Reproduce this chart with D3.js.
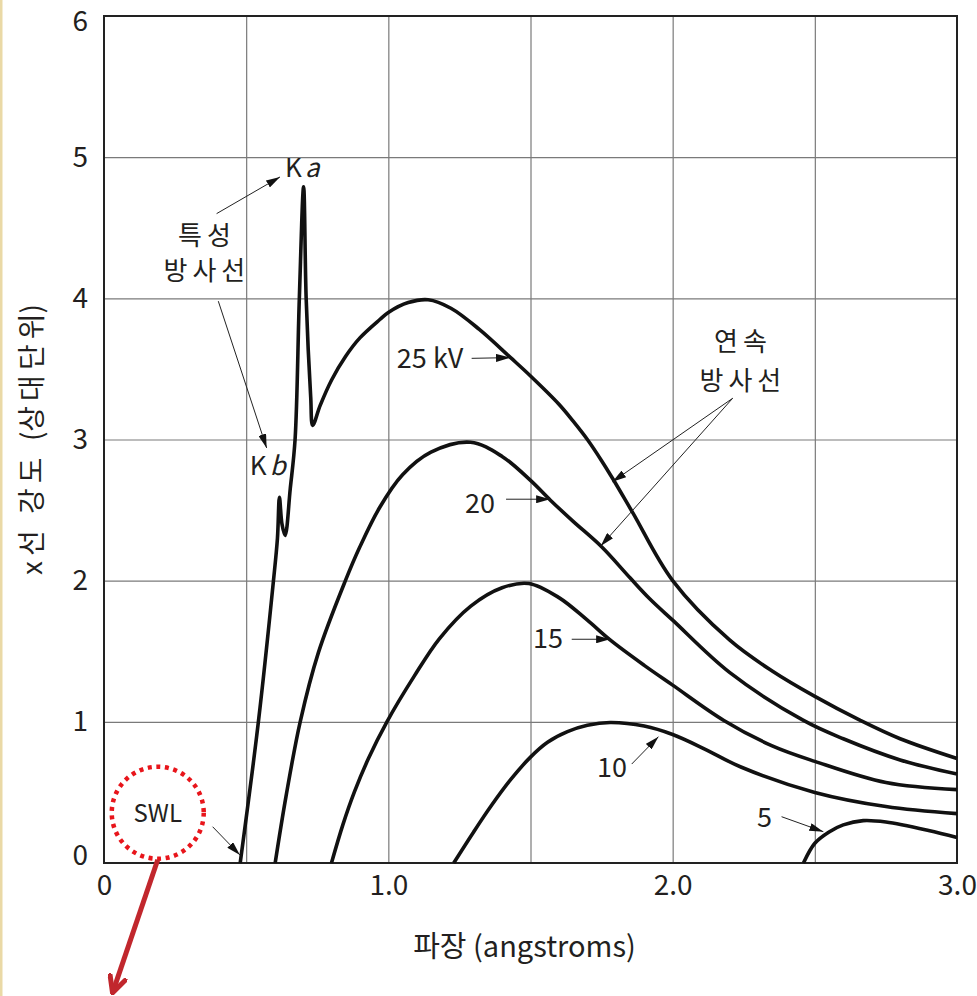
<!DOCTYPE html>
<html>
<head>
<meta charset="utf-8">
<script src="https://cdn.jsdelivr.net/npm/d3@7"></script>
<style>
  body { margin: 0; background: #fff; }
  svg { display: block; }
  text { font-family: "Noto Sans CJK KR", "Open Sans", sans-serif; fill: #231f20; }
  .grid line { stroke: #7a7a7a; stroke-width: 1.2; }
  .grid path { display: none; }
  .ticks path, .ticks line { display: none; }
  .curve { fill: none; stroke: #111; stroke-width: 3.6; stroke-linejoin: round; }
  .note { stroke: #222; stroke-width: 1; fill: none; }
</style>
</head>
<body>
<svg id="xray" width="977" height="996"></svg>
<script>
// wavelength (angstroms), intensity (relative)
const curve25 = [[0.479, 0], [0.543, 1], [0.596, 2], [0.610, 2.3], [0.617, 2.59], [0.626, 2.40],
  [0.637, 2.32], [0.655, 2.65], [0.672, 3.0], [0.687, 4.0], [0.702, 4.79], [0.711, 4.0],
  [0.727, 3.3], [0.734, 3.10], [0.76, 3.24], [0.80, 3.42], [0.85, 3.59], [0.90, 3.72],
  [0.97, 3.85], [1.0, 3.9], [1.07, 3.97], [1.14, 3.99], [1.22, 3.93], [1.32, 3.78],
  [1.43, 3.58], [1.50, 3.45], [1.60, 3.25], [1.65, 3.13], [1.70, 3.0], [1.75, 2.85],
  [1.79, 2.72], [1.86, 2.48], [2.0, 2.0], [2.2, 1.58], [2.35, 1.36], [2.50, 1.18],
  [2.66, 1.01], [2.8, 0.88], [3.0, 0.74]];
const curve20 = [[0.602, 0], [0.64, 0.47], [0.69, 1], [0.754, 1.49], [0.849, 2], [0.90, 2.24],
  [0.97, 2.52], [1.05, 2.75], [1.15, 2.91], [1.289, 2.98], [1.40, 2.88], [1.50, 2.71],
  [1.57, 2.57], [1.65, 2.42], [1.75, 2.24], [1.85, 2.02], [1.92, 1.87], [2.0, 1.72],
  [2.2, 1.35], [2.46, 1.01], [2.6, 0.88], [2.8, 0.73], [3.0, 0.63]];
const curve15 = [[0.80, 0], [0.84, 0.27], [0.88, 0.50], [0.93, 0.74], [0.995, 1.0],
  [1.09, 1.32], [1.18, 1.59], [1.29, 1.82], [1.40, 1.95], [1.494, 1.98], [1.60, 1.88],
  [1.70, 1.72], [1.78, 1.58], [1.90, 1.40], [2.0, 1.26], [2.18, 1.01], [2.35, 0.83],
  [2.50, 0.72], [2.75, 0.57], [3.0, 0.52]];
const curve10 = [[1.23, 0], [1.30, 0.22], [1.36, 0.40], [1.43, 0.59], [1.50, 0.75],
  [1.56, 0.855], [1.63, 0.93], [1.70, 0.975], [1.78, 0.995], [1.90, 0.97], [2.0, 0.91],
  [2.12, 0.80], [2.24, 0.68], [2.50, 0.50], [2.75, 0.40], [3.0, 0.35]];
const curve5 = [[2.46, 0], [2.50, 0.14], [2.55, 0.22], [2.60, 0.27], [2.67, 0.30],
  [2.75, 0.29], [2.90, 0.23], [3.0, 0.18]];

const xTicks = [0, 1, 2, 3];
const xTickLabels = ["0", "1.0", "2.0", "3.0"];
const yTicks = [0, 1, 2, 3, 4, 5, 6];
const xGridVals = [0.5, 1, 1.5, 2, 2.5];
const yGridVals = [1, 2, 3, 4, 5];

// label text + anchor points (data units)
const voltLabels = [
  { text: "25 kV", at: [1.030, 3.51], from: [1.293, 3.575], to: [1.428, 3.58] },
  { text: "20", at: [1.270, 2.48], from: [1.414, 2.577], to: [1.569, 2.577] },
  { text: "15", at: [1.509, 1.523], from: [1.645, 1.585], to: [1.780, 1.585] },
  { text: "10", at: [1.734, 0.609], from: [1.856, 0.701], to: [1.950, 0.895] },
  { text: "5", at: [2.297, 0.255], from: [2.383, 0.328], to: [2.530, 0.222] }
];

const svg = d3.select("svg#xray");
const margins = { top: 16, right: 20, bottom: 133, left: 104 };
const width = +svg.attr("width");
const height = +svg.attr("height");

const xScale = d3.scaleLinear().domain([0, 3]).range([margins.left, width - margins.right]);
const yScale = d3.scaleLinear().domain([0, 6]).range([height - margins.bottom, margins.top]);

// thin beige strip at the left edge
svg.append("rect").attr("x", 0).attr("y", 0).attr("width", 2.5).attr("height", height)
  .attr("fill", "#ead9a6");

const defs = svg.append("defs");
defs.append("marker").attr("id", "tip")
  .attr("viewBox", "0 0 14 8").attr("refX", 14).attr("refY", 4)
  .attr("markerWidth", 14).attr("markerHeight", 8)
  .attr("markerUnits", "userSpaceOnUse").attr("orient", "auto")
  .append("path").attr("d", "M0,0 L14,4 L0,8 Z").attr("fill", "#111");
defs.append("marker").attr("id", "redtip")
  .attr("viewBox", "0 0 20 20").attr("refX", 18).attr("refY", 10)
  .attr("markerWidth", 20).attr("markerHeight", 20)
  .attr("markerUnits", "userSpaceOnUse").attr("orient", "auto")
  .append("path").attr("d", "M2,2 L18,10 L2,18").attr("fill", "none")
  .attr("stroke", "#c1272d").attr("stroke-width", 5).attr("stroke-linecap", "round");

//gridlines
const plotH = yScale(0) - yScale(6);
const plotW = xScale(3) - xScale(0);
svg.append("g").attr("class", "grid")
  .attr("transform", `translate(0,${yScale(0)})`)
  .call(d3.axisBottom(xScale).tickValues(xGridVals).tickSize(-plotH).tickFormat(""));
svg.append("g").attr("class", "grid")
  .attr("transform", `translate(${xScale(0)},0)`)
  .call(d3.axisLeft(yScale).tickValues(yGridVals).tickSize(-plotW).tickFormat(""));

// frame
svg.append("rect")
  .attr("x", xScale(0)).attr("y", yScale(6))
  .attr("width", plotW).attr("height", plotH)
  .attr("fill", "none").attr("stroke", "#222").attr("stroke-width", 2);

// tick labels
const xAx = svg.append("g").attr("class", "ticks")
  .attr("transform", `translate(0,${yScale(0)})`)
  .call(d3.axisBottom(xScale).tickValues(xTicks).tickSize(0).tickPadding(12)
    .tickFormat((d, i) => xTickLabels[i]));
xAx.selectAll("text").attr("font-size", 28).style("font-family", null);

const yAx = svg.append("g").attr("class", "ticks")
  .attr("transform", `translate(${xScale(0)},0)`)
  .call(d3.axisLeft(yScale).tickValues(yTicks).tickSize(0).tickPadding(16).tickFormat(d3.format("d")));
yAx.selectAll("text").attr("font-size", 28).style("font-family", null);
yAx.selectAll("text").filter(d => d === 6).attr("dy", "0.5em");
yAx.selectAll("text").filter(d => d === 0).attr("dy", "0.05em");

// axis titles
svg.append("text")
  .attr("x", (xScale(0) + xScale(3)) / 2 - 6).attr("y", 957)
  .attr("text-anchor", "middle").attr("font-size", 29)
  .text("파장 (angstroms)");
const yTitle = svg.append("text")
  .attr("transform", `translate(42,${(yScale(0) + yScale(6)) / 2}) rotate(-90)`)
  .attr("text-anchor", "middle").attr("font-size", 28);
yTitle.append("tspan").attr("letter-spacing", 5).text("x선 강도 ");
yTitle.append("tspan").text("(");
yTitle.append("tspan").attr("letter-spacing", 5).text("상대단");
yTitle.append("tspan").text("위)");

// curves
const line = d3.line().x(d => xScale(d[0])).y(d => yScale(d[1])).curve(d3.curveCatmullRom.alpha(0.5));
[curve25, curve20, curve15, curve10, curve5].forEach(c => {
  svg.append("path").datum(c).attr("class", "curve").attr("d", line);
});

function arrow(from, to) {
  svg.append("line").attr("class", "note")
    .attr("x1", xScale(from[0])).attr("y1", yScale(from[1]))
    .attr("x2", xScale(to[0])).attr("y2", yScale(to[1]))
    .attr("marker-end", "url(#tip)");
}

// kV labels
voltLabels.forEach(v => {
  svg.append("text").attr("x", xScale(v.at[0])).attr("y", yScale(v.at[1]))
    .attr("font-size", 27).text(v.text);
  arrow(v.from, v.to);
});

// characteristic lines
const ka = svg.append("text").attr("x", xScale(0.637)).attr("y", yScale(4.86)).attr("font-size", 26);
ka.append("tspan").text("K");
ka.append("tspan").attr("dx", 3).attr("font-style", "italic").text("a");
const kb = svg.append("text").attr("x", xScale(0.513)).attr("y", yScale(2.75)).attr("font-size", 26);
kb.append("tspan").text("K");
kb.append("tspan").attr("dx", 3).attr("font-style", "italic").text("b");

[["특성", 4.38], ["방사선", 4.13]].forEach(([t, yy]) => {
  svg.append("text").attr("x", xScale(0.362)).attr("y", yScale(yy))
    .attr("text-anchor", "middle").attr("font-size", 26).attr("letter-spacing", 5)
    .text(t);
});
arrow([0.396, 4.60], [0.619, 4.86]);
arrow([0.402, 3.98], [0.572, 2.94]);

// continuous radiation
[["연속", 3.63], ["방사선", 3.35]].forEach(([t, yy]) => {
  svg.append("text").attr("x", xScale(2.247)).attr("y", yScale(yy))
    .attr("text-anchor", "middle").attr("font-size", 26).attr("letter-spacing", 5)
    .text(t);
});
arrow([2.211, 3.292], [1.788, 2.70]);
arrow([2.211, 3.292], [1.747, 2.245]);

// SWL marker
const swl = [0.189, 0.356];
svg.append("circle").attr("cx", xScale(swl[0])).attr("cy", yScale(swl[1])).attr("r", 46)
  .attr("fill", "none").attr("stroke", "#e8151b").attr("stroke-width", 4.5)
  .attr("stroke-dasharray", "4 4.6");
svg.append("text").attr("x", xScale(swl[0])).attr("y", yScale(swl[1]) + 9)
  .attr("text-anchor", "middle").attr("font-size", 24).text("SWL");
arrow([0.382, 0.257], [0.478, 0.057]);
svg.append("line")
  .attr("x1", xScale(swl[0])).attr("y1", yScale(swl[1]) + 47)
  .attr("x2", xScale(0.03)).attr("y2", yScale(-0.92))
  .attr("stroke", "#c1272d").attr("stroke-width", 5).attr("marker-end", "url(#redtip)");
</script>
</body>
</html>
